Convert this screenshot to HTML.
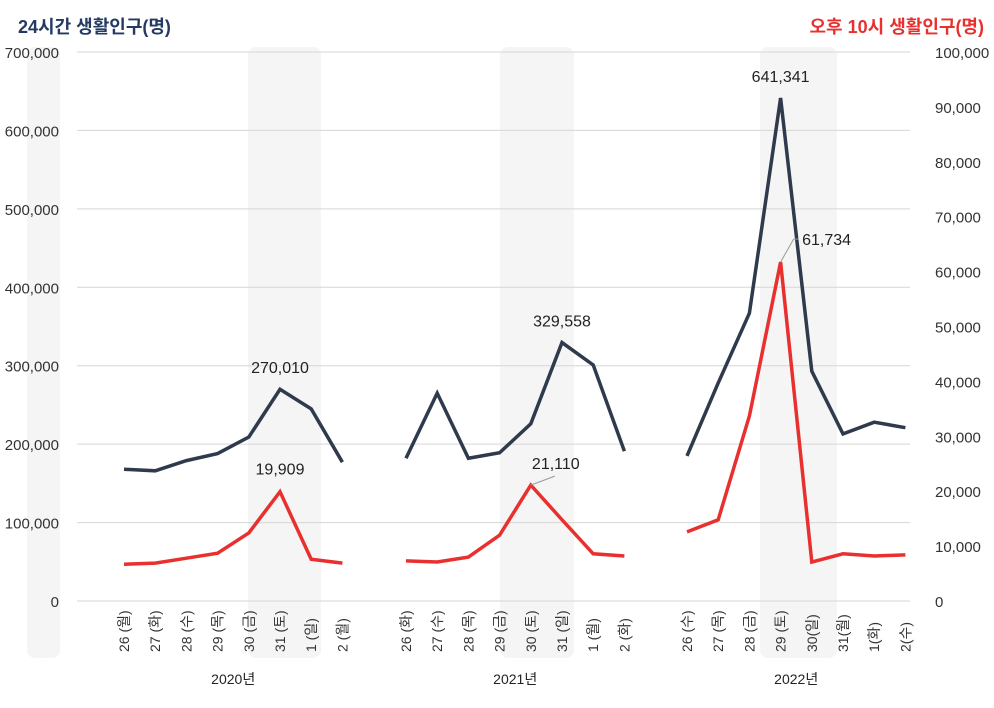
<!DOCTYPE html>
<html><head><meta charset="utf-8"><style>
body{margin:0;background:#fff}
svg{display:block;font-family:"Liberation Sans","Noto Sans CJK KR",sans-serif}
</style></head><body>
<svg id="c" width="994" height="708" xmlns="http://www.w3.org/2000/svg"></svg>
<script>
const years=["2020년","2021년","2022년"];
const dayLabels=[
["26 (월)","27 (화)","28 (수)","29 (목)","30 (금)","31 (토)","1 (일)","2 (월)"],
["26 (화)","27 (수)","28 (목)","29 (금)","30 (토)","31 (일)","1 (월)","2 (화)"],
["26 (수)","27 (목)","28 (금)","29 (토)","30(일)","31(월)","1(화)","2(수)"]];
const pop24=[
[168000,166000,179000,188000,209000,270010,245000,177000],
[182000,265000,182000,189000,226000,329558,301000,191000],
[185000,278000,367000,641341,293000,213000,228000,221000]];
const pop22=[
[6700,6900,7800,8700,12400,19909,7600,6900],
[7300,7100,8000,12000,21110,14800,8600,8200],
[12600,14800,33700,61734,7100,8600,8200,8400]];
const leftTicks=[0,100000,200000,300000,400000,500000,600000,700000];
const rightTicks=[0,10000,20000,30000,40000,50000,60000,70000,80000,90000,100000];

const NS="http://www.w3.org/2000/svg";
const svg=document.getElementById('c');
function el(t,a,p){const e=document.createElementNS(NS,t);for(const k in a)e.setAttribute(k,a[k]);(p||svg).appendChild(e);return e;}
const y0=601,yTop=52;
const yL=v=>y0-(v/700000)*(y0-yTop);
const yR=v=>y0-(v/100000)*(y0-yTop);
const groupX=[124,406,687],step=31.2;
const xP=(g,i)=>groupX[g]+i*step;
const fmt=v=>v.toLocaleString('en-US');
const bandBox=[[248,321],[500,574],[760,837]];

let b=el('rect',{x:27,y:47,width:33,height:611,rx:8,fill:'#f5f5f5'});


bandBox.forEach((h,g)=>{
  const r=el('rect',{x:h[0],y:47,width:h[1]-h[0],height:611,rx:8,fill:'#f5f5f5'});
  
  
});
leftTicks.forEach(v=>{
  const l=el('line',{x1:77,x2:910,y1:yL(v),y2:yL(v),stroke:'#d6d6d6','stroke-width':1});
  
  
  const t=el('text',{x:59,y:yL(v)+6,'text-anchor':'end','font-size':15,fill:'#333'});
  t.textContent=fmt(v);
  
  
});
rightTicks.forEach(v=>{
  const t=el('text',{x:935,y:yR(v)+6,'font-size':15,fill:'#333'});
  t.textContent=fmt(v);
  
  
});
let t1=el('text',{x:18,y:33,'font-size':18,'font-weight':'bold',fill:'#243a63'});
t1.textContent='24시간 생활인구(명)';


let t2=el('text',{x:984,y:33,'text-anchor':'end','font-size':18,'font-weight':'bold',fill:'#e8302f'});
t2.textContent='오후 10시 생활인구(명)';



years.forEach((yr,g)=>{
  dayLabels[g].forEach((d,i)=>{
    const x=xP(g,i)+5,y=652;
    const t=el('text',{x:x,y:y,transform:`rotate(-90 ${x} ${y})`,'font-size':14,fill:'#333'});
    t.textContent=d;
    
    
  });
  const yt=el('text',{x:xP(g,3.5),y:684,'text-anchor':'middle','font-size':14,fill:'#222'});
  yt.textContent=yr;
  
  
  const p1=el('polyline',{points:pop24[g].map((v,i)=>xP(g,i)+','+yL(v)).join(' '),fill:'none',stroke:'#2f3a4c','stroke-width':3.5,'stroke-linejoin':'miter'});
  
  
  const p2=el('polyline',{points:pop22[g].map((v,i)=>xP(g,i)+','+yR(v)).join(' '),fill:'none',stroke:'#e8302f','stroke-width':3.5});
  
  
  const pi=pop24[g].indexOf(Math.max(...pop24[g]));
  const a=el('text',{x:xP(g,pi),y:yL(pop24[g][pi])-16,'text-anchor':'middle','font-size':16,fill:'#222'});
  a.textContent=fmt(pop24[g][pi]);
  
  
  const ri=pop22[g].indexOf(Math.max(...pop22[g]));
  const rx=xP(g,ri),ry=yR(pop22[g][ri]);
  let lx=rx,ly=ry-17,anchor='middle';
  if(g===1){el('line',{x1:rx,y1:ry,x2:rx+24,y2:ry-9,stroke:'#999','stroke-width':1});lx=rx+25;ly=ry-16;}
  if(g===2){el('line',{x1:rx,y1:ry,x2:rx+13,y2:ry-23,stroke:'#999','stroke-width':1});el('line',{x1:rx+13,y1:ry-23,x2:rx+18,y2:ry-23,stroke:'#999','stroke-width':1});lx=rx+46;ly=ry-17;}
  const c=el('text',{x:lx,y:ly,'text-anchor':anchor,'font-size':16,fill:'#222'});
  c.textContent=fmt(pop22[g][ri]);
  
  
});
</script>
</body></html>
